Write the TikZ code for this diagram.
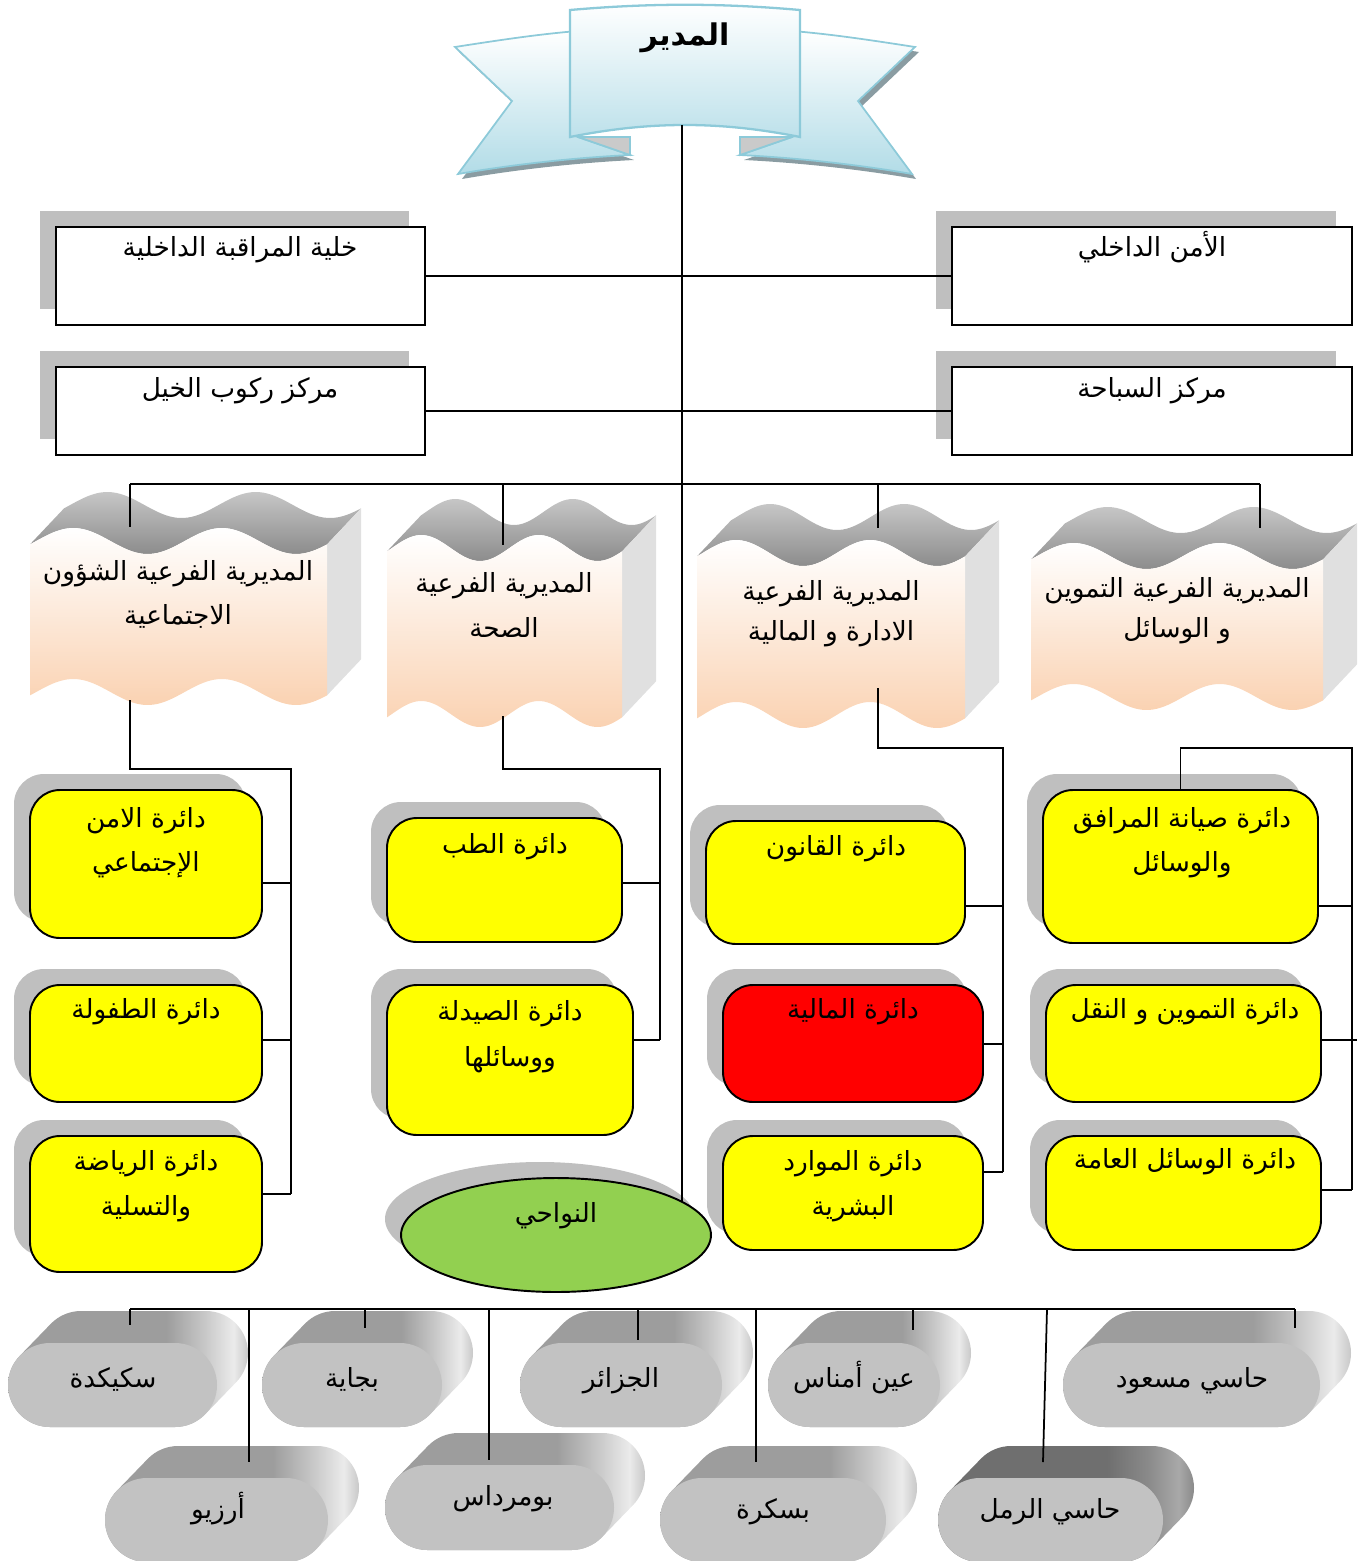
\documentclass[tikz,border=0pt]{standalone}
\usepackage{fontspec}
\usetikzlibrary{shapes.geometric,shadows,fit,calc}
\TeXXeTstate=1
\newfontfamily\arfont[Script=Arabic]{DejaVu Sans}
\newcommand\artx[1]{\beginR #1\endR}
\definecolor{yel}{HTML}{FFFF00}
\definecolor{redbox}{HTML}{FF0000}
\definecolor{grn}{HTML}{92D050}
\definecolor{shgray}{HTML}{BFBFBF}
\definecolor{peach}{HTML}{FAD2B2}
\definecolor{sidegray}{HTML}{E0E0E0}
\definecolor{wtopA}{HTML}{C6C6C6}
\definecolor{wtopB}{HTML}{8C8C8C}
\definecolor{bnblue}{HTML}{B2DCE7}
\definecolor{bnline}{HTML}{8DCAD9}
\definecolor{bnshadow}{HTML}{8A9CA2}
\definecolor{foldgray}{HTML}{CACACA}
\definecolor{cyfront}{HTML}{C2C2C2}
\definecolor{cyA}{HTML}{9D9D9D}
\definecolor{cyB}{HTML}{C8C8C8}
\definecolor{cyC}{HTML}{EBEBEB}
\definecolor{cyDA}{HTML}{6F6F6F}
\definecolor{cyDB}{HTML}{8A8A8A}
\definecolor{cyDC}{HTML}{A9A9A9}
\pgfdeclarehorizontalshading{cylsh}{100bp}{color(0bp)=(cyA); color(25bp)=(cyA); color(58bp)=(cyA); color(66bp)=(cyB); color(72bp)=(cyC); color(75bp)=(cyB); color(100bp)=(cyB)}
\pgfdeclarehorizontalshading{cylshd}{100bp}{color(0bp)=(cyDA); color(25bp)=(cyDA); color(58bp)=(cyDA); color(66bp)=(cyDB); color(72bp)=(cyDC); color(75bp)=(cyDB); color(100bp)=(cyDB)}
\pgfdeclarelayer{lines}
\pgfdeclarelayer{top}
\pgfsetlayers{main,lines,top}

\newcommand\drawcyl[5]{%
 \pgfmathsetmacro\cyR{(#4-#3)/2}%
 \pgfmathsetmacro\cyY{(#4+#3)/2}%
 \pgfmathsetmacro\cyL{#1+\cyR}%
 \pgfmathsetmacro\cyRt{#2-\cyR}%
 \pgfmathsetmacro\cyW{\cyRt-\cyL}%
 \shade[shading=#5] ({\cyL+\cyR*cos(224.1)},{\cyY+\cyR*sin(224.1)}) -- ++(31,-32)
   arc[start angle=224.1,end angle=270,radius=\cyR] -- ++(\cyW,0)
   arc[start angle=-90,end angle=44.1,radius=\cyR] -- ++(-31,32)
   arc[start angle=44.1,end angle=90,radius=\cyR] -- ++(-\cyW,0)
   arc[start angle=90,end angle=224.1,radius=\cyR] -- cycle;
 \fill[cyfront] (\cyL,#3) -- (\cyRt,#3) arc[start angle=-90,end angle=90,radius=\cyR] -- (\cyL,#4) arc[start angle=90,end angle=270,radius=\cyR] -- cycle;
}

\newcommand\drawwave[4]{%
 \pgfmathsetmacro\wvK{720/(#2-#1)}%
 \shade[top color=wtopA, bottom color=wtopB] plot[domain=#1:#2,samples=80] (\x,{#3-13*sin((\x-#1)*\wvK-15)}) -- plot[domain=#2+34:#1+34,samples=80] (\x,{#3-36-13*sin((\x-34-#1)*\wvK-15)}) -- cycle;
 \fill[sidegray] ({#2},{#3+3.4}) -- ({#2+34},{#3-32.6}) -- ({#2+34},{#4-32.6}) -- ({#2},{#4+3.4}) -- cycle;
 \shade[top color=white, bottom color=peach] plot[domain=#1:#2,samples=80] (\x,{#3-13*sin((\x-#1)*\wvK-15)}) -- plot[domain=#2:#1,samples=80] (\x,{#4-13*sin((\x-#1)*\wvK-15)}) -- cycle;
}

\begin{document}
\begin{tikzpicture}[x=0.02cm,y=-0.02cm,
  conn/.style={line width=1pt, draw=black},
  lbl/.style={font=\arfont\fontsize{15}{18}\selectfont, anchor=base, inner sep=0pt},
  plainbox/.style={draw=black, line width=1.1pt, fill=white, inner sep=0pt,
     general shadow={fill=shgray, shadow xshift=-0.32cm, shadow yshift=0.32cm}},
  ybox/.style={draw=black, line width=1.1pt, fill=yel, rounded corners=0.6cm, inner sep=0pt,
     general shadow={fill=shgray, shadow xshift=-0.32cm, shadow yshift=0.32cm}},
]
\useasboundingbox (0,0) rectangle (1359,1561);

% ---------- banner ----------
\fill[bnshadow] (459,52) .. controls (504,45) and (544,39) .. (582,36) -- (582,142) -- (634,160) .. controls (574,163) and (514,170) .. (462,179) -- (516,106) -- cycle;
\fill[bnshadow] (919,52) .. controls (874,45) and (834,39) .. (796,36) -- (796,142) -- (744,160) .. controls (804,163) and (864,170) .. (916,179) -- (862,106) -- cycle;
\draw[bnline, line width=1pt, top color=white, bottom color=bnblue] (455,47) .. controls (500,40) and (540,34) .. (578,31) -- (578,137) -- (630,155) .. controls (570,158) and (510,165) .. (458,174) -- (512,101) -- cycle;
\draw[bnline, line width=1pt, top color=white, bottom color=bnblue] (915,47) .. controls (870,40) and (830,34) .. (792,31) -- (792,137) -- (740,155) .. controls (800,158) and (860,165) .. (912,174) -- (858,101) -- cycle;
\draw[bnline, line width=1pt, fill=foldgray] (578,137) -- (630,137) -- (630,155) -- cycle;
\draw[bnline, line width=1pt, fill=foldgray] (792,137) -- (740,137) -- (740,155) -- cycle;
\draw[bnline, line width=1.3pt, top color=white, bottom color=bnblue!85] (570,10) .. controls (650,3) and (720,3) .. (800,10) -- (800,137) .. controls (720,121) and (650,121) .. (570,137) -- cycle;
\node[anchor=base, inner sep=0pt, font=\arfont\bfseries\fontsize{17}{20}\selectfont] (mudir) at (685,46) {\artx{المدير}};
\coordinate (mainTop) at (682,125);

% ---------- top rectangles ----------
\node[plainbox, fit={(56,227)(425,325)}] (khalia) {};
\node[lbl] (khalia-t) at (240,256) {\artx{خلية المراقبة الداخلية}};
\node[plainbox, fit={(56,367)(425,455)}] (rukub) {};
\node[lbl] (rukub-t) at (240,397) {\artx{مركز ركوب الخيل}};
\node[plainbox, fit={(952,227)(1352,325)}] (amnd) {};
\node[lbl] (amnd-t) at (1152,256) {\artx{الأمن الداخلي}};
\node[plainbox, fit={(952,367)(1352,455)}] (sibaha) {};
\node[lbl] (sibaha-t) at (1152,397) {\artx{مركز السباحة}};

% ---------- waves ----------
\drawwave{30}{327}{541}{692}
\drawwave{387}{622}{548}{714}
\drawwave{697}{965}{553}{715}
\drawwave{1031}{1323}{556}{697}
\node[lbl] (w1a) at (178,580) {\artx{المديرية الفرعية الشؤون}};
\node[lbl] (w1b) at (178,624) {\artx{الاجتماعية}};
\node[lbl] (w2a) at (504,592) {\artx{المديرية الفرعية}};
\node[lbl] (w2b) at (504,637) {\artx{الصحة}};
\node[lbl] (w3a) at (831,600) {\artx{المديرية الفرعية}};
\node[lbl] (w3b) at (831,640) {\artx{الادارة و المالية}};
\node[lbl] (w4a) at (1177,597) {\artx{المديرية الفرعية التموين}};
\node[lbl] (w4b) at (1177,637) {\artx{و الوسائل}};
\coordinate (w1top) at (130,527); \coordinate (w1bot) at (130,700);
\coordinate (w2top) at (503,545); \coordinate (w2bot) at (503,716);
\coordinate (w3top) at (878,528); \coordinate (w3bot) at (878,688);
\coordinate (w4top) at (1260,528);

% ---------- yellow boxes ----------
\node[ybox, fit={(30,790)(262,938)}] (amnij) {};
\node[lbl] (amnij-a) at (146,827) {\artx{دائرة الامن}};
\node[lbl] (amnij-b) at (146,871) {\artx{الإجتماعي}};
\node[ybox, fit={(30,985)(262,1102)}] (tufula) {};
\node[lbl] (tufula-t) at (146,1018) {\artx{دائرة الطفولة}};
\node[ybox, fit={(30,1136)(262,1272)}] (riyada) {};
\node[lbl] (riyada-a) at (146,1170) {\artx{دائرة الرياضة}};
\node[lbl] (riyada-b) at (146,1215) {\artx{والتسلية}};

\node[ybox, fit={(387,818)(622,942)}] (tibb) {};
\node[lbl] (tibb-t) at (505,853) {\artx{دائرة الطب}};
\node[ybox, fit={(387,985)(633,1135)}] (saydala) {};
\node[lbl] (saydala-a) at (510,1020) {\artx{دائرة الصيدلة}};
\node[lbl] (saydala-b) at (510,1066) {\artx{ووسائلها}};

\node[ybox, fit={(706,821)(965,944)}] (qanun) {};
\node[lbl] (qanun-t) at (836,855) {\artx{دائرة القانون}};
\node[ybox, fill=redbox, fit={(723,985)(983,1102)}] (maliya) {};
\node[lbl] (maliya-t) at (853,1018) {\artx{دائرة المالية}};
\node[ybox, fit={(723,1136)(983,1250)}] (mawarid) {};
\node[lbl] (mawarid-a) at (853,1170) {\artx{دائرة الموارد}};
\node[lbl] (mawarid-b) at (853,1215) {\artx{البشرية}};

\node[ybox, fit={(1043,790)(1318,943)}] (siyana) {};
\node[lbl] (siyana-a) at (1182,827) {\artx{دائرة صيانة المرافق}};
\node[lbl] (siyana-b) at (1182,871) {\artx{والوسائل}};
\node[ybox, fit={(1046,985)(1321,1102)}] (tamwin) {};
\node[lbl] (tamwin-t) at (1185,1018) {\artx{دائرة التموين و النقل}};
\node[ybox, fit={(1046,1136)(1321,1250)}] (wasail) {};
\node[lbl] (wasail-t) at (1185,1168) {\artx{دائرة الوسائل العامة}};

% ---------- ellipse shadow ----------
\fill[shgray] (540,1219) ellipse [x radius=155, y radius=57];

% ---------- cylinders ----------
\drawcyl{8}{217}{1343}{1427}{cylsh}
\drawcyl{262}{442}{1343}{1427}{cylsh}
\drawcyl{520}{722}{1343}{1427}{cylsh}
\drawcyl{768}{940}{1343}{1427}{cylsh}
\drawcyl{1063}{1320}{1343}{1427}{cylsh}
\drawcyl{105}{328}{1478}{1562}{cylsh}
\drawcyl{385}{614}{1465}{1550}{cylsh}
\drawcyl{660}{886}{1478}{1562}{cylsh}
\drawcyl{938}{1163}{1478}{1562}{cylshd}
\node[lbl] (skikda) at (113,1387) {\artx{سكيكدة}};
\node[lbl] (bejaia) at (352,1387) {\artx{بجاية}};
\node[lbl] (alger) at (621,1387) {\artx{الجزائر}};
\node[lbl] (amenas) at (854,1387) {\artx{عين أمناس}};
\node[lbl] (hmessaoud) at (1192,1387) {\artx{حاسي مسعود}};
\node[lbl] (arzew) at (218,1518) {\artx{أرزيو}};
\node[lbl] (boumerdes) at (503,1505) {\artx{بومرداس}};
\node[lbl] (biskra) at (773,1518) {\artx{بسكرة}};
\node[lbl] (hrmel) at (1050,1518) {\artx{حاسي الرمل}};
\coordinate (d1) at (130,1325); \coordinate (d2) at (249,1462);
\coordinate (d3) at (365,1328); \coordinate (d4) at (489,1460);
\coordinate (d5) at (638,1340); \coordinate (d6) at (756,1462);
\coordinate (d7) at (913,1330); \coordinate (d8) at (1043,1462);
\coordinate (d9) at (1295,1328);
\coordinate (bbL) at (130,1309); \coordinate (bbR) at (1295,1309);

% ---------- ellipse (top layer) ----------
\begin{pgfonlayer}{top}
\node[ellipse, draw=black, line width=1.1pt, fill=grn, minimum width=6.2cm, minimum height=2.28cm, inner sep=0pt] (nawahi) at (556,1235) {};
\node[lbl] (nawahi-t) at (556,1222) {\artx{النواحي}};
\end{pgfonlayer}

% ---------- connectors ----------
\begin{pgfonlayer}{lines}
\draw[conn] (mainTop) -- (mainTop |- nawahi.center);
\draw[conn] (khalia.east) -- (khalia.east -| mainTop);
\draw[conn] (rukub.east) -- (rukub.east -| mainTop);
\draw[conn] (amnd.west) -- (amnd.west -| mainTop);
\draw[conn] (sibaha.west) -- (sibaha.west -| mainTop);
\coordinate (busL) at (130,484); \coordinate (busR) at (1260,484);
\draw[conn] (busL) -- (busR);
\draw[conn] (busL) -- (w1top);
\draw[conn] (w2top |- busL) -- (w2top);
\draw[conn] (w3top |- busL) -- (w3top);
\draw[conn] (busR) -- (w4top);
% column 1
\coordinate (c1a) at (291,769); \coordinate (c1b) at (291,1194);
\draw[conn] (w1bot) |- (c1a) -- (c1b);
\draw[conn] (amnij.east |- 0,883) -- (c1a |- 0,883);
\draw[conn] (tufula.east |- 0,1040) -- (c1a |- 0,1040);
\draw[conn] (riyada.east |- c1b) -- (c1b);
% column 2
\coordinate (c2a) at (660,769); \coordinate (c2b) at (660,1040);
\draw[conn] (w2bot) |- (c2a) -- (c2b);
\draw[conn] (tibb.east |- 0,883) -- (c2a |- 0,883);
\draw[conn] (saydala.east |- c2b) -- (c2b);
% column 3
\coordinate (c3a) at (1003,748); \coordinate (c3b) at (1003,1172);
\draw[conn] (w3bot) |- (c3a) -- (c3b);
\draw[conn] (qanun.east |- 0,906) -- (c3a |- 0,906);
\draw[conn] (maliya.east |- 0,1044) -- (c3a |- 0,1044);
\draw[conn] (mawarid.east |- c3b) -- (c3b);
% column 4
\coordinate (c4a) at (1352,748); \coordinate (c4b) at (1352,1190);
\draw[conn] (siyana.north) |- (c4a) -- (c4b);
\draw[conn] (siyana.east |- 0,906) -- (c4a |- 0,906);
\draw[conn] (tamwin.east |- 0,1040) -- (1357,1040);
\draw[conn] (wasail.east |- c4b) -- (c4b);
% bottom bus
\draw[conn] (bbL) -- (bbR);
\draw[conn] (bbL) -- (d1);
\draw[conn] (d2 |- bbL) -- (d2);
\draw[conn] (d3 |- bbL) -- (d3);
\draw[conn] (d4 |- bbL) -- (d4);
\draw[conn] (d5 |- bbL) -- (d5);
\draw[conn] (d6 |- bbL) -- (d6);
\draw[conn] (d7 |- bbL) -- (d7);
\draw[conn] (1047,1309) -- (d8);
\draw[conn] (bbR) -- (d9);
\end{pgfonlayer}
\end{tikzpicture}
\end{document}
